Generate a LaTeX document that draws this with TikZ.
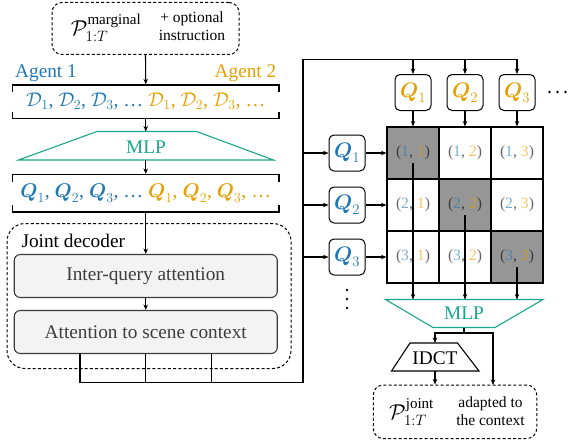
\RequirePackage{fix-cm}
\documentclass[tikz,border=0pt]{standalone}
\usepackage{amsmath}
\usepackage{fontspec}
\setmainfont{Liberation Serif}
\usetikzlibrary{arrows.meta}
\definecolor{ablue}{RGB}{31,119,180}
\definecolor{aorange}{RGB}{230,159,0}
\definecolor{mlpc}{RGB}{26,166,138}
\definecolor{cellgray}{RGB}{150,150,150}
\definecolor{boxgray}{RGB}{243,243,243}
\definecolor{edgegray}{RGB}{60,60,60}
\newcommand{\fmain}{\fontsize{19.3}{23}\selectfont}
\newcommand{\frow}{\fontsize{19.8}{23}\selectfont}
\newcommand{\fsmall}{\fontsize{15.5}{18}\selectfont}
\newcommand{\fbig}{\fontsize{21.5}{25}\selectfont}
\newcommand{\fcell}{\fontsize{15.7}{18}\selectfont}
\newcommand{\fq}{\fontsize{21}{24}\selectfont}
\begin{document}
\begin{tikzpicture}[x=1pt,y=-1pt,line width=1.1pt,
 arr/.style={-{Stealth[length=5.5pt,width=4.5pt]}},
 bus/.style={line width=1.9pt},
 brk/.style={line width=1.6pt},
 dashbox/.style={draw, dash pattern=on 3pt off 2.2pt, line width=1pt, rounded corners=10pt, inner sep=0pt},
 qbox/.style={draw, line width=1pt, rounded corners=5pt, minimum width=36pt, minimum height=36pt, inner sep=0pt, font=\fq},
 cell/.style={draw, line width=1.1pt, minimum width=52pt, minimum height=52pt, inner sep=0pt, font=\fcell, text opacity=0.6},
 diag/.style={cell, fill=cellgray},
 attbox/.style={draw=edgegray, fill=boxgray, rounded corners=6pt, minimum width=263pt, minimum height=43pt, inner sep=0pt, line width=1.1pt, font=\fmain, text=edgegray},
 mlpline/.style={draw=mlpc, line width=1.1pt},
 lbl/.style={inner sep=0pt},
 dotc/.style={fill=black, circle, inner sep=0pt, minimum size=2.8pt}]
\useasboundingbox (0,0) rectangle (570,444);

% top input box
\node[dashbox, minimum width=187pt, minimum height=52pt] (margbox) at (145.5,28.5) {};
\node[lbl, font=\fbig] (marg) at (106,28) {$\mathcal{P}_{1:T}^{\text{marginal}}$};
\node[lbl, font=\fsmall, align=center] (instr) at (192,26.5) {+ optional\\instruction};

% agent labels
\node[lbl, font=\fmain, text=ablue] (ag1) at (46,73) {Agent 1};
\node[lbl, font=\fmain, text=aorange] (ag2) at (245.5,73) {Agent 2};

% bracket 1
\draw[brk] (12.5,92) -- (12.5,85) -- (279,85) -- (279,92);
\draw[brk] (12.5,111.5) -- (12.5,118.5) -- (279,118.5) -- (279,111.5);
\node[lbl, minimum width=266.5pt, minimum height=33.5pt, font=\frow] (brk1) at (145.75,101.75)
 {\textcolor{ablue}{$\mathcal{D}_1$, $\mathcal{D}_2$, $\mathcal{D}_3$, \ldots}\ \textcolor{aorange}{$\mathcal{D}_1$, $\mathcal{D}_2$, $\mathcal{D}_3$, \ldots}};
\draw[arr] (margbox.south) -- (brk1.north);

% MLP 1
\draw[mlpline] (97,131.5) -- (196.5,131.5) -- (273.5,160) -- (18.5,160) -- cycle;
\node[lbl, font=\fmain, text=mlpc] (mlp1) at (146,147) {MLP};
\coordinate (mlp1top) at (145.75,131.5);
\coordinate (mlp1bot) at (145.75,160);
\draw[arr] (brk1.south) -- (mlp1top);

% bracket 2
\draw[brk] (12.5,181.5) -- (12.5,174.5) -- (279,174.5) -- (279,181.5);
\draw[brk] (12.5,205) -- (12.5,212) -- (279,212) -- (279,205);
\node[lbl, minimum width=266.5pt, minimum height=37.5pt, font=\frow] (brk2) at (145.75,193.25)
 {\textcolor{ablue}{$\boldsymbol{Q}_1$, $\boldsymbol{Q}_2$, $\boldsymbol{Q}_3$, \ldots}\ \textcolor{aorange}{$\boldsymbol{Q}_1$, $\boldsymbol{Q}_2$, $\boldsymbol{Q}_3$, \ldots}};
\draw[arr] (mlp1bot) -- (brk2.north);

% joint decoder
\node[dashbox, rounded corners=18pt, minimum width=284pt, minimum height=145pt] (jd) at (149,296) {};
\node[lbl, font=\fmain, anchor=west] (jdl) at (21,241) {Joint decoder};
\node[attbox] (inter) at (145.75,276) {Inter-query attention};
\node[attbox] (att) at (145.75,332) {Attention to scene context};
\draw[arr] (brk2.south) -- (inter.north);
\draw[arr] (inter.south) -- (att.north);

% bus
\coordinate (busBL) at (80,382.5);
\coordinate (busBR) at (303,382.5);
\coordinate (busTL) at (303,59.5);
\coordinate (busTR) at (517,59.5);
\draw (att.south -| busBL) -- (busBL);
\draw (att.south) -- (att.south |- busBL);
\draw ([xshift=66pt]att.south) -- ([xshift=66pt]att.south |- busBL);
\draw[bus] (busBL) -- (busBR) -- (busTL) -- (busTR);

% grid
\foreach \r/\y in {1/153,2/205,3/257}{
 \foreach \c/\x in {1/413,2/465,3/517}{
  \ifnum\r=\c
   \node[diag] (c\r\c) at (\x,\y) {(\textcolor{ablue}{\r}, \textcolor{aorange}{\c})};
  \else
   \node[cell] (c\r\c) at (\x,\y) {(\textcolor{ablue}{\r}, \textcolor{aorange}{\c})};
  \fi
 }
}

% top Q boxes
\foreach \c/\x in {1/413,2/465,3/517}{
 \node[qbox, text=aorange] (qt\c) at (\x,92.5) {$\boldsymbol{Q}_{\c}$};
 \draw[arr] (qt\c |- busTL) -- (qt\c.north);
 \draw[arr] (qt\c.south) -- (c1\c.north);
}
% left Q boxes
\foreach \r/\y in {1/153,2/205,3/257}{
 \node[qbox, text=ablue] (ql\r) at (347,\y) {$\boldsymbol{Q}_{\r}$};
 \draw[arr] (busTL |- ql\r) -- (ql\r.west);
 \draw[arr] (ql\r.east) -- (c\r1.west);
}
% ellipses
\node[dotc] (hd1) at (549.5,92) {};
\node[dotc] (hd2) at (557.5,92) {};
\node[dotc] (hd3) at (565.5,92) {};
\node[dotc] (vd1) at (347,290) {};
\node[dotc] (vd2) at (347,299) {};
\node[dotc] (vd3) at (347,308) {};

% MLP 2
\draw[mlpline] (385.5,299.5) -- (543,299.5) -- (495,327.5) -- (433,327.5) -- cycle;
\node[lbl, font=\fmain, text=mlpc] (mlp2) at (464,313.5) {MLP};
\coordinate (mlp2top) at (464,299.5);
\coordinate (mlp2bot) at (464,327.5);
\foreach \i in {1,2,3}{
 \draw[arr] ([yshift=-10pt]c\i\i.center) -- (c\i\i.center |- mlp2top);
}

% IDCT
\draw (410,343) -- (457.5,343) -- (479,371) -- (391.5,371) -- cycle;
\node[lbl, font=\fmain] (idct) at (435,358) {IDCT};
\coordinate (idcttop) at (435,343);
\coordinate (idctbot) at (435,371);
\coordinate (split) at (464,333);

% output box
\node[dashbox, minimum width=163.5pt, minimum height=53.5pt] (outbox) at (455,411.75) {};
\node[lbl, font=\fbig] (joint) at (411.5,412) {$\mathcal{P}_{1:T}^{\text{joint}}$};
\node[lbl, font=\fsmall, align=center] (adapt) at (490.5,411) {adapted to\\the context};
\coordinate (outR) at (493,385);

\draw (mlp2bot) -- (split);
\draw[arr] (split) -| (idcttop);
\draw[arr] (split) -| (outR);
\draw[arr] (idctbot) -- (idctbot |- outbox.north);
\end{tikzpicture}
\end{document}
